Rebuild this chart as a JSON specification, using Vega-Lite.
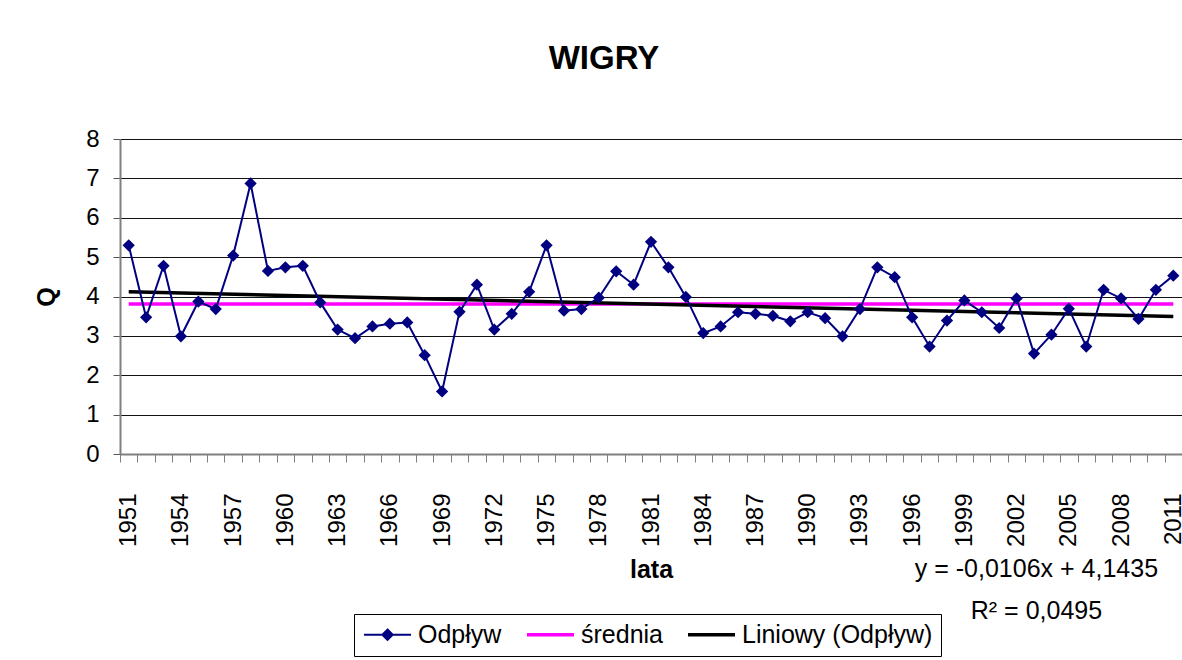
{
  "$schema": "https://vega.github.io/schema/vega-lite/v6.json",
  "width": 1062,
  "height": 315,
  "autosize": {"type": "none"},
  "padding": {"left": 120, "top": 139, "right": 0, "bottom": 206},
  "background": "white",
  "title": {
    "text": "WIGRY",
    "font": "Liberation Sans",
    "fontSize": 33,
    "fontWeight": "bold",
    "color": "black",
    "anchor": "middle",
    "dx": -47,
    "offset": 51
  },
  "config": {
    "view": {"stroke": null},
    "font": "Liberation Sans"
  },
  "data": {
    "values": [
      {"year": 1951, "Q": 5.30}, {"year": 1952, "Q": 3.47}, {"year": 1953, "Q": 4.78}, {"year": 1954, "Q": 2.99},
      {"year": 1955, "Q": 3.87}, {"year": 1956, "Q": 3.68}, {"year": 1957, "Q": 5.04}, {"year": 1958, "Q": 6.87},
      {"year": 1959, "Q": 4.65}, {"year": 1960, "Q": 4.74}, {"year": 1961, "Q": 4.78}, {"year": 1962, "Q": 3.85},
      {"year": 1963, "Q": 3.16}, {"year": 1964, "Q": 2.94}, {"year": 1965, "Q": 3.24}, {"year": 1966, "Q": 3.31},
      {"year": 1967, "Q": 3.34}, {"year": 1968, "Q": 2.51}, {"year": 1969, "Q": 1.59}, {"year": 1970, "Q": 3.61},
      {"year": 1971, "Q": 4.30}, {"year": 1972, "Q": 3.16}, {"year": 1973, "Q": 3.56}, {"year": 1974, "Q": 4.12},
      {"year": 1975, "Q": 5.30}, {"year": 1976, "Q": 3.64}, {"year": 1977, "Q": 3.68}, {"year": 1978, "Q": 3.97},
      {"year": 1979, "Q": 4.64}, {"year": 1980, "Q": 4.30}, {"year": 1981, "Q": 5.39}, {"year": 1982, "Q": 4.74},
      {"year": 1983, "Q": 3.99}, {"year": 1984, "Q": 3.07}, {"year": 1985, "Q": 3.24}, {"year": 1986, "Q": 3.60},
      {"year": 1987, "Q": 3.56}, {"year": 1988, "Q": 3.51}, {"year": 1989, "Q": 3.37}, {"year": 1990, "Q": 3.60},
      {"year": 1991, "Q": 3.45}, {"year": 1992, "Q": 2.99}, {"year": 1993, "Q": 3.68}, {"year": 1994, "Q": 4.74},
      {"year": 1995, "Q": 4.49}, {"year": 1996, "Q": 3.47}, {"year": 1997, "Q": 2.73}, {"year": 1998, "Q": 3.39},
      {"year": 1999, "Q": 3.90}, {"year": 2000, "Q": 3.60}, {"year": 2001, "Q": 3.20}, {"year": 2002, "Q": 3.95},
      {"year": 2003, "Q": 2.55}, {"year": 2004, "Q": 3.03}, {"year": 2005, "Q": 3.69}, {"year": 2006, "Q": 2.73},
      {"year": 2007, "Q": 4.17}, {"year": 2008, "Q": 3.95}, {"year": 2009, "Q": 3.43}, {"year": 2010, "Q": 4.17},
      {"year": 2011, "Q": 4.53}
    ]
  },
  "encoding": {
    "x": {
      "field": "year",
      "type": "ordinal",
      "bandPosition": 0.5,
      "scale": {"type": "band", "paddingInner": 0, "paddingOuter": 0},
      "axis": {
        "title": "lata",
        "titleFont": "Liberation Sans",
        "titleFontSize": 25,
        "titleFontWeight": "bold",
        "titleColor": "black",
        "titlePadding": 11,
        "labelExpr": "(datum.value - 1951) % 3 === 0 ? datum.value : ''",
        "labelAngle": -90,
        "labelAlign": "right",
        "labelBaseline": "middle",
        "labelFontSize": 24,
        "labelColor": "black",
        "labelPadding": 31,
        "labelOverlap": false,
        "labelFlush": false,
        "tickBand": "extent",
        "tickSize": 8,
        "tickColor": "#808080",
        "tickWidth": 1,
        "domainColor": "#808080",
        "domainWidth": 2,
        "grid": false
      }
    },
    "y": {
      "type": "quantitative",
      "scale": {"domain": [0, 8], "nice": false, "zero": true},
      "axis": {
        "title": "Q",
        "titleFont": "Liberation Sans",
        "titleFontSize": 25,
        "titleFontWeight": "bold",
        "titleColor": "black",
        "titlePadding": 26,
        "values": [0, 1, 2, 3, 4, 5, 6, 7, 8],
        "labelFontSize": 24,
        "labelColor": "black",
        "labelPadding": 14,
        "tickSize": 7,
        "tickColor": "#555555",
        "domainColor": "#808080",
        "domainWidth": 2,
        "grid": true,
        "gridColor": "#111111",
        "gridWidth": 1
      }
    }
  },
  "layer": [
    {
      "transform": [{"joinaggregate": [{"op": "mean", "field": "Q", "as": "meanQ"}]}],
      "mark": {"type": "line", "strokeWidth": 3.5},
      "encoding": {
        "y": {"field": "meanQ", "type": "quantitative"},
        "color": {
          "datum": "średnia",
          "type": "nominal",
          "scale": {
            "domain": ["Odpływ", "średnia", "Liniowy (Odpływ)"],
            "range": ["#000080", "#FF00FF", "#000000"]
          },
          "legend": {
            "title": null,
            "orient": "none",
            "legendX": 234,
            "legendY": 475,
            "direction": "horizontal",
            "strokeColor": "black",
            "padding": 8,
            "labelFont": "Liberation Sans",
            "labelFontSize": 25,
            "labelColor": "black",
            "labelLimit": 0,
            "symbolOffset": 13,
            "labelOffset": 18,
            "columnPadding": 18,
            "symbolType": "stroke",
            "symbolSize": 2209,
            "symbolStrokeWidth": 3.5,
            "encode": {
              "symbols": {
                "update": {
                  "shape": {"signal": "datum.value === 'Odpływ' ? 'M-1,0H1M0,-0.22L0.22,0L0,0.22L-0.22,0Z' : 'stroke'"},
                  "fill": {"signal": "datum.value === 'Odpływ' ? '#000080' : 'transparent'"},
                  "strokeWidth": {"signal": "datum.value === 'Odpływ' ? 2 : 3.5"}
                }
              }
            }
          }
        }
      }
    },
    {
      "transform": [{"regression": "Q", "on": "year"}],
      "mark": {"type": "line", "strokeWidth": 3.5},
      "encoding": {
        "y": {"field": "Q", "type": "quantitative"},
        "color": {"datum": "Liniowy (Odpływ)", "type": "nominal"}
      }
    },
    {
      "mark": {"type": "line", "strokeWidth": 2},
      "encoding": {
        "y": {"field": "Q", "type": "quantitative"},
        "color": {"datum": "Odpływ", "type": "nominal"}
      }
    },
    {
      "mark": {"type": "point", "shape": "diamond", "filled": true, "size": 150, "color": "#000080", "opacity": 1},
      "encoding": {
        "y": {"field": "Q", "type": "quantitative"}
      }
    },
    {
      "data": {"values": [{"eq": ["y = -0,0106x + 4,1435", "R² = 0,0495"]}]},
      "mark": {"type": "text", "font": "Liberation Sans", "fontSize": 25, "color": "black", "align": "center", "baseline": "alphabetic", "lineHeight": 42, "dx": -15},
      "encoding": {
        "x": {"datum": 2004, "type": "ordinal"},
        "y": {"datum": -3.13, "type": "quantitative"},
        "text": {"field": "eq"}
      }
    }
  ]
}
